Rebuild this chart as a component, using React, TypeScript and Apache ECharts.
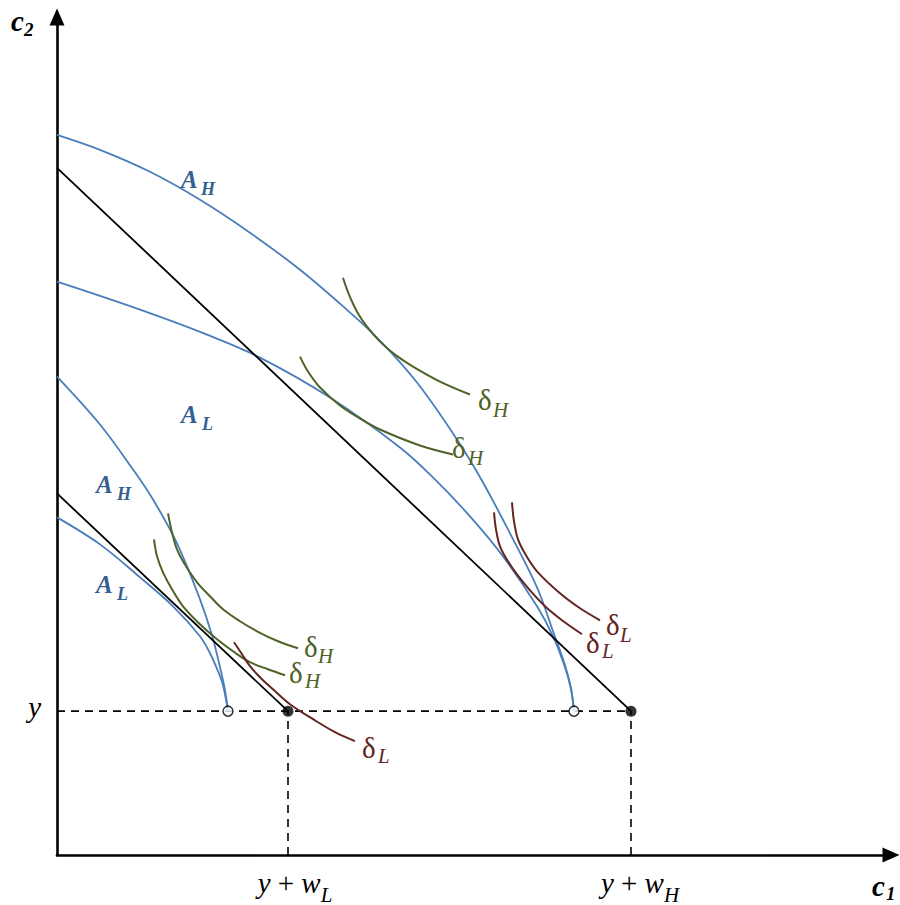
import React, { useEffect, useRef } from "react";
import * as echarts from "echarts";

// ---- axis extents (c1 horizontal, c2 vertical) ----
const C1_MAX = 834;
const C2_MAX = 839;

// ---- tick values ----
const endowmentValue = 144; // "y" on the c2 axis
const incomeValues = [231, 574]; // y + w_L , y + w_H on the c1 axis
const incomeSubs = ["L", "H"];
const kinkValues = [171, 517]; // where the A frontiers meet c2 = y

// ---- production frontiers (blue) ----
const frontierAH_high = [
  [0, 721], [43, 706], [93, 684], [143, 656], [193, 623], [243, 586], [283, 552],
  [320, 518], [360, 473], [400, 416], [426, 373], [453, 322], [480, 268],
  [496, 224], [508, 190], [514, 167], [517, 144],
];
const frontierAL_high = [
  [0, 574], [83, 546], [150, 521], [203, 498], [273, 458], [343, 408], [376, 378],
  [413, 339], [446, 299], [480, 249], [496, 219], [508, 188], [514, 166], [517, 144],
];
const frontierAH_low = [
  [0, 479], [43, 431], [76, 386], [96, 356], [120, 312], [143, 256], [155, 220],
  [163, 188], [168, 165], [171, 144],
];
const frontierAL_low = [
  [0, 338], [43, 311], [83, 278], [116, 249], [143, 219], [153, 202], [161, 184],
  [166, 170], [171, 144],
];

// ---- budget lines (black) ----
const budgetHigh = [[0, 688], [574, 144]];
const budgetLow = [[0, 362], [231, 144]];

// ---- indifference curves ----
const indiffH_high1 = [
  [286, 578], [292, 561], [300, 544], [310, 529], [323, 514], [338, 501],
  [356, 489], [383, 474], [413, 461],
];
const indiffH_high2 = [
  [243, 499], [251, 484], [263, 468], [283, 450], [303, 437], [323, 426],
  [363, 410], [396, 401],
];
const indiffL_high1 = [
  [455, 353], [457, 334], [461, 316], [469, 300], [480, 284], [503, 262],
  [523, 247], [543, 235],
];
const indiffL_high2 = [
  [437, 343], [439, 326], [443, 309], [451, 294], [460, 281], [473, 265],
  [488, 249], [505, 235], [525, 221],
];
const indiffH_low1 = [
  [111, 342], [115, 323], [120, 306], [129, 289], [140, 273], [153, 259],
  [166, 246], [183, 234], [200, 224], [221, 214], [241, 207],
];
const indiffH_low2 = [
  [97, 316], [100, 299], [106, 283], [115, 266], [126, 249], [143, 231],
  [160, 216], [176, 204], [193, 193], [211, 186], [228, 180],
];
const indiffL_low = [
  [177, 213], [185, 201], [193, 189], [204, 177], [216, 166], [233, 151],
  [256, 136], [278, 123], [298, 114],
];

const BLUE = "#4A7EBB";
const LABEL_BLUE = "#365F91";
const GREEN = "#4F6228";
const RED = "#632523";
const SERIF = "'Liberation Serif', 'Times New Roman', serif";

function curve(name: string, data: number[][], color: string, width = 1.8, smooth = 0.35) {
  return {
    name,
    type: "line",
    data,
    smooth,
    showSymbol: false,
    silent: true,
    lineStyle: { color, width },
    z: 3,
  };
}

function txt(text: string, x: number, baseline: number, font: string, size: number, fill: string) {
  return {
    type: "text",
    silent: true,
    z: 100,
    style: {
      text,
      x,
      y: baseline - 0.34 * size,
      font: `${font} ${size}px ${SERIF}`,
      fill,
      textAlign: "left",
      textVerticalAlign: "middle",
    },
  };
}

function subLabel(
  main: string, sub: string, x: number, base: number, sx: number, sbase: number,
  fill: string, mainFont: string, mSize: number, subFont: string, sSize: number,
) {
  return [txt(main, x, base, mainFont, mSize, fill), txt(sub, sx, sbase, subFont, sSize, fill)];
}

export default function App() {
  const ref = useRef<HTMLDivElement>(null);

  useEffect(() => {
    if (!ref.current) return;
    const chart = echarts.init(ref.current, undefined, { renderer: "svg" });

    const graphics: any[] = [
      // axis titles
      ...subLabel("c", "2", 11, 31, 24, 36, "#000", "bold italic", 29, "bold italic", 19),
      ...subLabel("c", "1", 872, 896, 886, 900, "#000", "bold italic", 29, "bold italic", 19),
      // blue frontier labels
      ...subLabel("A", "H", 181, 188, 201, 195, LABEL_BLUE, "bold italic", 25, "bold italic", 18),
      ...subLabel("A", "L", 181, 423, 202, 430, LABEL_BLUE, "bold italic", 25, "bold italic", 18),
      ...subLabel("A", "H", 96, 493, 117, 500, LABEL_BLUE, "bold italic", 25, "bold italic", 18),
      ...subLabel("A", "L", 96, 593, 117, 600, LABEL_BLUE, "bold italic", 25, "bold italic", 18),
      // delta labels
      ...subLabel("δ", "H", 478, 410, 493, 417, GREEN, "normal", 29, "italic", 21),
      ...subLabel("δ", "H", 452, 458, 468, 465, GREEN, "normal", 29, "italic", 21),
      ...subLabel("δ", "H", 304, 657, 318, 663, GREEN, "normal", 29, "italic", 21),
      ...subLabel("δ", "H", 289, 683, 305, 688, GREEN, "normal", 29, "italic", 21),
      ...subLabel("δ", "L", 606, 635, 620, 642, RED, "normal", 29, "italic", 21),
      ...subLabel("δ", "L", 586, 653, 602, 658, RED, "normal", 29, "italic", 21),
      ...subLabel("δ", "L", 362, 758, 378, 763, RED, "normal", 29, "italic", 21),
    ];

    const dash = { color: "#000", width: 1.6, type: [8, 6] as any };

    chart.setOption({
      animation: false,
      grid: { left: 57, right: 9, top: 17, bottom: 49 },
      xAxis: {
        type: "value",
        min: 0,
        max: C1_MAX,
        splitLine: { show: false },
        axisTick: { show: false },
        axisLine: {
          onZero: false,
          symbol: ["none", "triangle"],
          symbolSize: [15, 17],
          lineStyle: { color: "#000", width: 2.6 },
        },
        axisLabel: {
          show: true,
          customValues: incomeValues,
          margin: 6,
          color: "#000",
          formatter: (v: number) => {
            const i = incomeValues.indexOf(v);
            const s = incomeSubs[i] ?? "";
            const pad = s === "H" ? "{ph| }" : "{pl| }";
            return `${pad}{i|y}{r| + }{i|w}{s|${s}}`;
          },
          rich: {
            i: { fontFamily: SERIF, fontStyle: "italic", fontSize: 29, lineHeight: 44, verticalAlign: "middle", color: "#000" },
            r: { fontFamily: SERIF, fontSize: 29, lineHeight: 44, verticalAlign: "middle", color: "#000" },
            s: { fontFamily: SERIF, fontStyle: "italic", fontSize: 21, lineHeight: 21, verticalAlign: "bottom", color: "#000" },
            pl: { width: 14, fontSize: 10 },
            ph: { width: 18, fontSize: 10 },
          },
        },
      },
      yAxis: {
        type: "value",
        min: 0,
        max: C2_MAX,
        splitLine: { show: false },
        axisTick: { show: false },
        axisLine: {
          onZero: false,
          symbol: ["none", "triangle"],
          symbolSize: [15, 17],
          lineStyle: { color: "#000", width: 2.6 },
        },
        axisLabel: {
          show: true,
          customValues: [endowmentValue],
          margin: 16,
          formatter: () => "{i|y}",
          rich: {
            i: { fontFamily: SERIF, fontStyle: "italic", fontSize: 29, color: "#000", padding: [0, 0, 8, 0] },
          },
        },
      },
      graphic: graphics,
      series: [
        {
          type: "line",
          data: [[0, endowmentValue], [incomeValues[1], endowmentValue]],
          showSymbol: false,
          silent: true,
          lineStyle: dash,
          z: 2,
        },
        ...incomeValues.map((v) => ({
          type: "line",
          data: [[v, 0], [v, endowmentValue]],
          showSymbol: false,
          silent: true,
          lineStyle: dash,
          z: 2,
        })),
        curve("A_H high", frontierAH_high, BLUE),
        curve("A_L high", frontierAL_high, BLUE),
        curve("A_H low", frontierAH_low, BLUE),
        curve("A_L low", frontierAL_low, BLUE),
        curve("budget high", budgetHigh, "#000", 1.8, 0),
        curve("budget low", budgetLow, "#000", 1.8, 0),
        curve("dH1", indiffH_high1, GREEN, 2),
        curve("dH2", indiffH_high2, GREEN, 2),
        curve("dL1", indiffL_high1, RED, 2),
        curve("dL2", indiffL_high2, RED, 2),
        curve("dH3", indiffH_low1, GREEN, 2),
        curve("dH4", indiffH_low2, GREEN, 2),
        curve("dL3", indiffL_low, RED, 2),
        {
          type: "scatter",
          data: incomeValues.map((v) => [v, endowmentValue]),
          symbol: "circle",
          symbolSize: 11,
          silent: true,
          itemStyle: { color: "#000" },
          z: 10,
        },
        {
          type: "scatter",
          data: kinkValues.map((v) => [v, endowmentValue]),
          symbol: "circle",
          symbolSize: 10,
          silent: true,
          itemStyle: { color: "#fff", borderColor: "#000", borderWidth: 1.5 },
          z: 10,
        },
      ],
    });

    return () => chart.dispose();
  }, []);

  return (
    <div
      ref={ref}
      style={{ position: "fixed", left: 0, top: 0, width: 900, height: 905, background: "#fff" }}
    />
  );
}
